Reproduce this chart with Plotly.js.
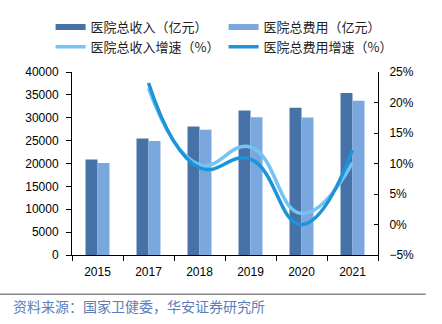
<!DOCTYPE html>
<html><head><meta charset="utf-8">
<script src="https://cdn.plot.ly/plotly-3.0.1.min.js"></script>
<style>html,body{margin:0;padding:0;background:#fff;}#chart{width:442px;height:324px;}</style>
</head><body><div id="chart"></div>
<script>
const years = ['2015','2017','2018','2019','2020','2021'];
const revenue = [20850, 25450, 28080, 31600, 32190, 35400];
const expense = [20120, 24940, 27350, 30130, 30060, 33720];
const growthYears = ['2017','2018','2019','2020','2021'];
const revenueGrowth = [22.3, 9.8, 12.7, 1.8, 10.1];
const expenseGrowth = [23.2, 9.3, 10.7, 0.0, 12.2];
const names = ['医院总收入（亿元）','医院总费用（亿元）','医院总收入增速（%）','医院总费用增速（%）'];
const sourceText = '资料来源：国家卫健委，华安证券研究所';

const cDarkBar = '#4672A8', cLightBar = '#7BA7DF', cLightLine = '#72C4F4', cDarkLine = '#1C94DA';
const traces = [
  {type:'bar', x:years, y:revenue, name:names[0], marker:{color:cDarkBar}, showlegend:false, hoverinfo:'skip'},
  {type:'bar', x:years, y:expense, name:names[1], marker:{color:cLightBar}, showlegend:false, hoverinfo:'skip'},
  {type:'scatter', mode:'lines', x:growthYears, y:revenueGrowth, yaxis:'y2', name:names[2], line:{color:cLightLine, width:3.5, shape:'spline', smoothing:1.3}, showlegend:false},
  {type:'scatter', mode:'lines', x:growthYears, y:expenseGrowth, yaxis:'y2', name:names[3], line:{color:cDarkLine, width:3.5, shape:'spline', smoothing:1.3}, showlegend:false},
  // legend entries (wide swatches)
  {type:'scatter', mode:'lines', x:[null], y:[null], name:names[0], line:{color:cDarkBar, width:6}},
  {type:'scatter', mode:'lines', x:[null], y:[null], name:names[1], line:{color:cLightBar, width:6}},
  {type:'scatter', mode:'lines', x:[null], y:[null], yaxis:'y2', name:names[2], line:{color:cLightLine, width:3.5}},
  {type:'scatter', mode:'lines', x:[null], y:[null], yaxis:'y2', name:names[3], line:{color:cDarkLine, width:3.5}}
];
const layout = {
  width:442, height:324,
  margin:{l:72, r:64, t:72, b:69},
  paper_bgcolor:'#fff', plot_bgcolor:'#fff',
  font:{family:'Liberation Sans, Arial, sans-serif', size:12, color:'#000'},
  barmode:'group', bargap:0.53, bargroupgap:0,
  showlegend:true,
  legend:{orientation:'h', x:-0.07, y:1.328, xanchor:'left', yanchor:'top',
    entrywidth:128, entrywidthmode:'pixels', traceorder:'normal',
    font:{family:'Noto Sans CJK SC, sans-serif', size:13, color:'#222'}, bgcolor:'rgba(0,0,0,0)'},
  xaxis:{type:'category', categoryorder:'array', categoryarray:years,
    showline:true, linecolor:'#000', linewidth:1, ticks:'outside', ticklen:5, tickcolor:'#000',
    tickson:'boundaries', showgrid:false, zeroline:false, tickfont:{size:12}, ticklabelstandoff:6},
  yaxis:{range:[0,40000], dtick:5000, showline:true, linecolor:'#000', linewidth:1, ticks:'outside', ticklen:5,
    tickcolor:'#000', showgrid:false, zeroline:false, tickfont:{size:12}, tickformat:'d', ticklabelstandoff:5},
  yaxis2:{overlaying:'y', side:'right', range:[-5,25], dtick:5, ticksuffix:'%', showline:true, linecolor:'#000', linewidth:1,
    ticks:'inside', ticklen:4, tickcolor:'#000', showgrid:false, zeroline:false, tickfont:{size:12}, ticklabelstandoff:8},
  shapes:[{type:'line', xref:'paper', yref:'paper', x0:-0.235, x1:1.156, y0:-0.214, y1:-0.214, line:{color:'#888', width:1.5}}],
  annotations:[{xref:'paper', yref:'paper', x:-0.2, y:-0.212, xanchor:'left', yanchor:'top', showarrow:false,
    text:sourceText, font:{family:'Noto Sans CJK SC, sans-serif', size:14, color:'#5B7DB8'}}]
};
Plotly.newPlot('chart', traces, layout, {displayModeBar:false, staticPlot:true});
</script></body></html>
